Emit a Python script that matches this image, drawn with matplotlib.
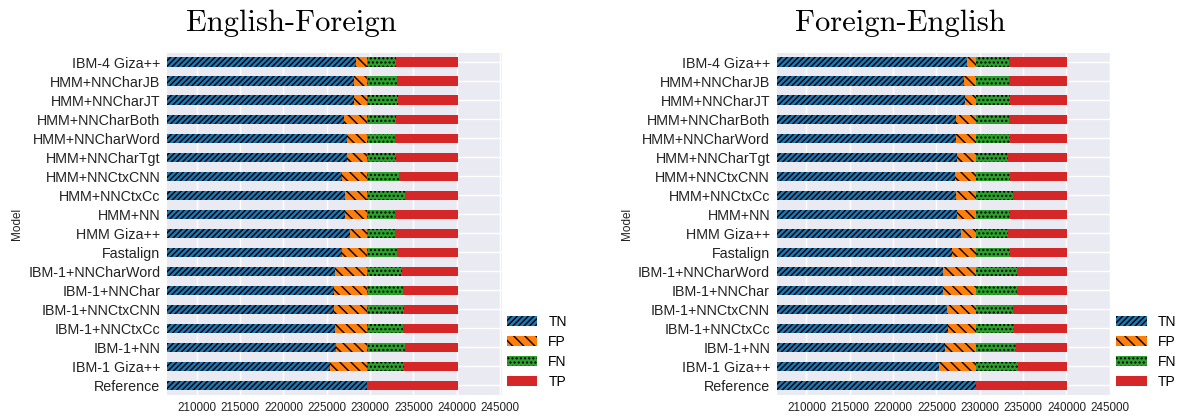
import matplotlib
matplotlib.use("Agg")
import matplotlib.pyplot as plt
import numpy as np

models = ["IBM-4 Giza++", "HMM+NNCharJB", "HMM+NNCharJT", "HMM+NNCharBoth",
          "HMM+NNCharWord", "HMM+NNCharTgt", "HMM+NNCtxCNN", "HMM+NNCtxCc",
          "HMM+NN", "HMM Giza++", "Fastalign", "IBM-1+NNCharWord",
          "IBM-1+NNChar", "IBM-1+NNCtxCNN", "IBM-1+NNCtxCc", "IBM-1+NN",
          "IBM-1 Giza++", "Reference"]

# English-Foreign
ef_tn = [228385, 228150, 228190, 227000, 227350, 227350, 226770, 227115, 227115,
         227690, 226770, 225960, 225850, 225850, 225960, 226080, 225385, 229600]
ef_fp = [1215, 1450, 1410, 2600, 2250, 2250, 2830, 2485, 2485,
         1910, 2830, 3640, 3750, 3750, 3640, 3520, 4215, 0]
ef_fn = [3400, 3550, 3630, 3400, 3290, 3400, 3750, 4480, 3320,
         3320, 3550, 4090, 4170, 4280, 4250, 4440, 4320, 0]
ef_tp = [7100, 6950, 6870, 7100, 7210, 7100, 6750, 6020, 7180,
         7180, 6950, 6410, 6330, 6220, 6250, 6060, 6180, 10500]

# Foreign-English
fe_tn = [228540, 228190, 228270, 227270, 227270, 227385, 227115, 227270, 227345,
         227845, 226810, 225770, 225730, 226230, 226345, 226000, 225310, 229600]
fe_fp = [1060, 1410, 1330, 2330, 2330, 2215, 2485, 2330, 2255,
         1755, 2790, 3830, 3870, 3370, 3255, 3600, 4290, 0]
fe_fn = [3750, 3790, 3860, 3790, 3900, 3670, 3900, 4250, 3860,
         3670, 3860, 4670, 4670, 4210, 4360, 4630, 4820, 0]
fe_tp = [6750, 6710, 6640, 6710, 6600, 6830, 6600, 6250, 6640,
         6830, 6640, 5830, 5830, 6290, 6140, 5870, 5680, 10500]

seg_labels = ["TN", "FP", "FN", "TP"]
seg_colors = ["#1f77b4", "#ff7f0e", "#2ca02c", "#d62728"]
seg_hatches = ["//////", "\\\\\\", "....", ""]
xticks = [210000, 215000, 220000, 225000, 230000, 235000, 240000, 245000]

plt.rcParams["font.family"] = ["Liberation Sans", "DejaVu Sans"]
plt.rcParams["hatch.linewidth"] = 1.0
plt.rcParams["hatch.color"] = "black"

fig = plt.figure(figsize=(11.79, 4.18), dpi=100)

panels = [("English-Foreign", [ef_tn, ef_fp, ef_fn, ef_tp], 167.3),
          ("Foreign-English", [fe_tn, fe_fp, fe_fn, fe_tp], 777.0)]

W, H = 1179.0, 418.0
for title, segs, x0 in panels:
    ax = fig.add_axes([x0 / W, 23.0 / H, 334.2 / W, (395.0 - 52.7) / H])
    ax.set_facecolor("#EAEAF2")
    ax.grid(True, color="white", linewidth=1.0)
    ax.set_axisbelow(True)
    for s in ax.spines.values():
        s.set_visible(False)
    y = np.arange(len(models))
    left = np.zeros(len(models))
    for vals, lab, col, hat in zip(segs, seg_labels, seg_colors, seg_hatches):
        v = np.array(vals, dtype=float)
        ax.barh(y, v, left=left, height=0.5, color=col, hatch=hat,
                linewidth=0, label=lab)
        left = left + v
    ax.set_yticks(y)
    ax.set_yticklabels(models, fontsize=10.3, color="#222222")
    ax.set_ylim(len(models) - 0.5, -0.5)
    ax.set_xlim(206600, 245170)
    ax.set_xticks(xticks)
    ax.set_xticklabels([str(t) for t in xticks], fontsize=8.4, color="#222222")
    ax.tick_params(length=0, pad=5)
    ax.set_ylabel("Model", fontsize=8.5, labelpad=3.8, color="#222222")
    ax.text(0.37, 1.045, title, transform=ax.transAxes, ha="center", va="bottom",
            fontsize=22, family="cmr10")
    ax.legend(loc="lower left", bbox_to_anchor=(0.978, -0.018), frameon=False,
              fontsize=10, handlelength=2.2, labelspacing=0.43)

fig.savefig("out.png", dpi=100)
